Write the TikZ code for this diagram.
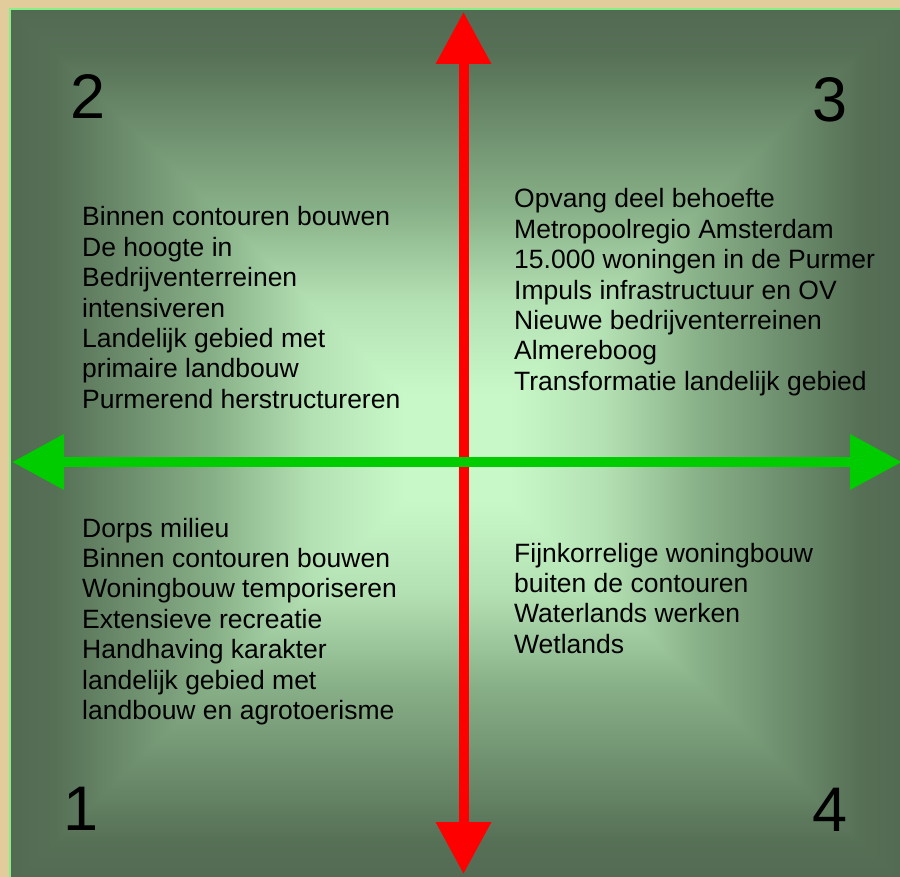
\documentclass[tikz,border=0pt]{standalone}
\usepackage{fontspec}
\setmainfont{Liberation Sans}
\usetikzlibrary{arrows.meta,calc}
\definecolor{edgec}{RGB}{82,106,82}
\definecolor{c90}{RGB}{86,112,86}
\definecolor{c55}{RGB}{135,175,135}
\definecolor{c33}{RGB}{180,225,180}
\definecolor{cenc}{RGB}{200,248,200}
\definecolor{tanbg}{RGB}{226,204,156}
\definecolor{rim}{RGB}{136,238,136}
\definecolor{axred}{RGB}{255,0,0}
\definecolor{axgreen}{RGB}{0,204,0}
\pgfdeclareverticalshading{qgrad}{100bp}{color(0bp)=(cenc); color(25bp)=(cenc); color(31bp)=(cenc); color(41.5bp)=(c33); color(52.5bp)=(c55); color(70bp)=(c90); color(75bp)=(edgec); color(100bp)=(edgec)}
\tikzset{
  itembox/.style={anchor=base west, inner sep=0pt, text=black, font=\fontsize{26.5}{30.4}\selectfont},
  digit/.style={inner sep=0pt, text=black, font=\fontsize{63}{63}\selectfont},
  axisline/.style={line width=10pt, {Triangle[length=52pt,width=53pt]}-{Triangle[length=52pt,width=53pt]}},
  quarter/.style={shading=qgrad, shading angle=#1}
}
\begin{document}
\begin{tikzpicture}[x=1pt,y=-1pt]
\useasboundingbox (0,0) rectangle (900,877);
\clip (0,0) rectangle (900,877);
\fill[tanbg] (0,0) rectangle (900,877);
\coordinate (TL) at (10,9);
\coordinate (TR) at (905,9);
\coordinate (BL) at (10,885);
\coordinate (BR) at (905,885);
\coordinate (C) at (457,447);
\fill[c55] (TL) rectangle (BR);
\shade[quarter=0] (TL) -- (TR) -- (C) -- cycle;
\shade[quarter=180] (BL) -- (BR) -- (C) -- cycle;
\shade[quarter=90] (TL) -- ($(TL)+(2,0)$) -- ($(C)+(2,0)$) -- ($(BL)+(2,0)$) -- (BL) -- cycle;
\shade[quarter=-90] (TR) -- ($(TR)+(-2,0)$) -- ($(C)+(-2,0)$) -- ($(BR)+(-2,0)$) -- (BR) -- cycle;
\draw[rim, line width=2pt] (TL) rectangle (BR);

\coordinate (N) at (463.5,12);
\coordinate (S) at (463.5,874);
\coordinate (W) at (12,462);
\coordinate (E) at (902,462);
\draw[axred, axisline] (N) -- (S);
\draw[axgreen, axisline] (W) -- (E);

\node[digit] (d2) at (88,97) {2};
\node[digit] (d3) at (830,100) {3};
\node[digit] (d1) at (81,809) {1};
\node[digit] (d4) at (830,810) {4};

\node[itembox] (q2) at (82,226) {\vtop{\hbox{Binnen contouren bouwen}\hbox{De hoogte in}\hbox{Bedrijventerreinen}\hbox{intensiveren}\hbox{Landelijk gebied met}\hbox{primaire landbouw}\hbox{Purmerend herstructureren}}};
\node[itembox] (q3) at (514,208) {\vtop{\hbox{Opvang deel behoefte}\hbox{Metropoolregio Amsterdam}\hbox{15.000 woningen in de Purmer}\hbox{Impuls infrastructuur en OV}\hbox{Nieuwe bedrijventerreinen}\hbox{Almereboog}\hbox{Transformatie landelijk gebied}}};
\node[itembox] (q1) at (82,537) {\vtop{\hbox{Dorps milieu}\hbox{Binnen contouren bouwen}\hbox{Woningbouw temporiseren}\hbox{Extensieve recreatie}\hbox{Handhaving karakter}\hbox{landelijk gebied met}\hbox{landbouw en agrotoerisme}}};
\node[itembox] (q4) at (514,562) {\vtop{\hbox{Fijnkorrelige woningbouw}\hbox{buiten de contouren}\hbox{Waterlands werken}\hbox{Wetlands}}};
\end{tikzpicture}
\end{document}
